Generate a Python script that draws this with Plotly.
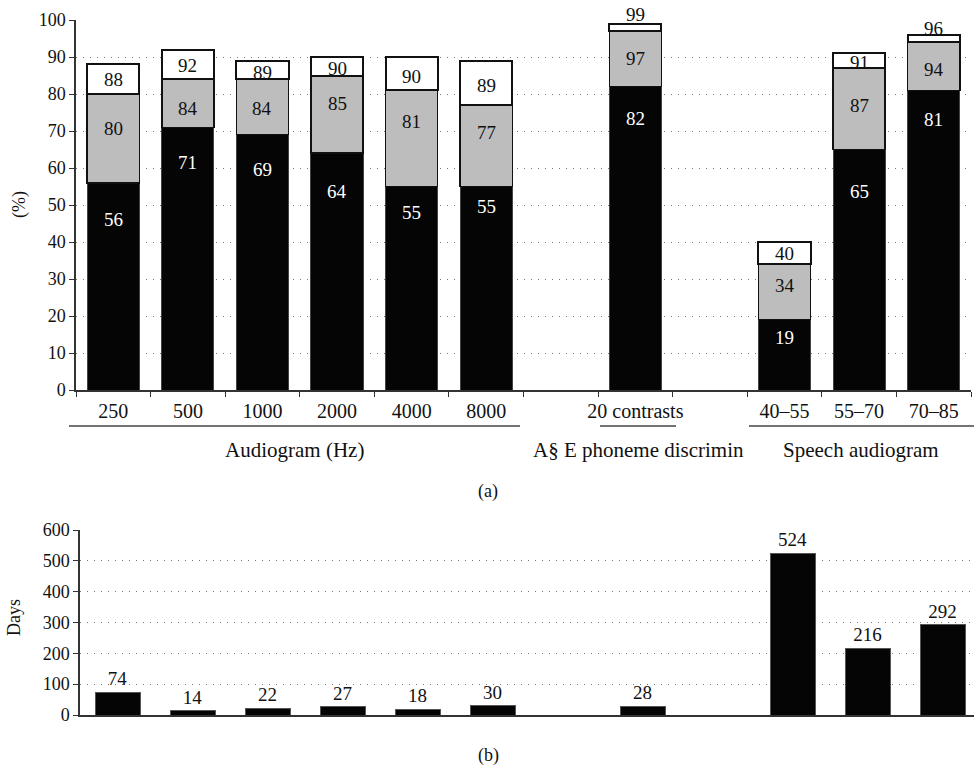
import plotly.graph_objects as go

# ---------------- data ----------------
categories = ["250", "500", "1000", "2000", "4000", "8000", "", "20 contrasts", "", "40–55", "55–70", "70–85"]
level1 = [56, 71, 69, 64, 55, 55, None, 82, None, 19, 65, 81]      # black (cumulative)
level2 = [80, 84, 84, 85, 81, 77, None, 97, None, 34, 87, 94]      # grey (cumulative)
level3 = [88, 92, 89, 90, 90, 89, None, 99, None, 40, 91, 96]      # white (cumulative)
days = [74, 14, 22, 27, 18, 30, None, 28, None, 524, 216, 292]
group_labels = ["Audiogram (Hz)", "A§ E phoneme discrimin", "Speech audiogram"]

# label vertical placement (data units) as in the original
lbl1_y = [46.2, 61.6, 59.7, 53.6, 48.0, 49.5, None, 73.5, None, 14.3, 53.6, 73.2]
lbl2_y = [70.8, 76.2, 76.0, 77.3, 72.7, 69.5, None, 89.7, None, 28.2, 77.0, 86.5]
lbl3_y = [83.8, 87.6, 85.7, 87.0, 84.6, 82.4, None, 101.6, None, 37.0, 88.4, 97.6]

W, H = 974, 771
FONT = "Liberation Serif"
FS_TICK = 18
FS_XTICK = 20
FS_LBL = 19
FS_GRP = 21
PX_PER_UNIT = 3.7  # top panel: 370 px for 100 %

def px(x):
    return x / W

def py(y):
    return 1 - y / H

xs = list(range(len(categories)))
seg1 = [a if a is not None else None for a in level1]
seg2 = [(b - a) if a is not None else None for a, b in zip(level1, level2)]
seg3 = [(c - b) if b is not None else None for b, c in zip(level2, level3)]

fig = go.Figure()
fig.add_bar(x=xs, y=seg1, width=0.7, marker=dict(color="#050505", line=dict(color="#444444", width=1)),
            xaxis="x", yaxis="y", showlegend=False)
fig.add_bar(x=xs, y=seg2, width=0.7, marker=dict(color="#bdbdbd", line=dict(color="#111111", width=1.5)),
            xaxis="x", yaxis="y", showlegend=False)
fig.add_bar(x=xs, y=seg3, width=0.7, marker=dict(color="#ffffff", line=dict(color="#111111", width=2)),
            xaxis="x", yaxis="y", showlegend=False)

fig.add_bar(x=xs, y=days, width=0.6, marker=dict(color="#050505", line=dict(color="#555555", width=1)),
            text=[str(v) if v is not None else "" for v in days], textposition="outside",
            textfont=dict(family=FONT, size=FS_LBL, color="#111111"), cliponaxis=False,
            xaxis="x2", yaxis="y2", showlegend=False)

annotations = []

def bar_label(i, yv, val, color):
    shift = 0
    if yv > 100:
        shift = (yv - 100) * PX_PER_UNIT
        yv = 100
    annotations.append(dict(x=i, y=yv, xref="x", yref="y", text=str(val), showarrow=False,
                            xanchor="center", yanchor="middle", yshift=shift,
                            font=dict(family=FONT, size=FS_LBL, color=color)))

for i in xs:
    if level1[i] is None:
        continue
    bar_label(i, lbl1_y[i], level1[i], "white")
    bar_label(i, lbl2_y[i], level2[i], "#111111")
    bar_label(i, lbl3_y[i], level3[i], "#111111")

def paper_text(x, y, text, size, angle=0):
    annotations.append(dict(x=px(x), y=py(y), xref="paper", yref="paper", text=text, showarrow=False,
                            xanchor="center", yanchor="middle", textangle=angle,
                            font=dict(family=FONT, size=size, color="#111111")))

for g, gx in zip(group_labels, [294.5, 638, 861]):
    paper_text(gx, 450, g, FS_GRP)
paper_text(488, 492, "(a)", FS_TICK)
paper_text(488, 755, "(b)", FS_TICK)
paper_text(20, 205, "(%)", FS_TICK, -90)
paper_text(14, 618, "Days", FS_TICK, -90)

shapes = []
for x0, x1 in [(69, 520), (600, 676), (749, 974)]:
    shapes.append(dict(type="line", xref="paper", yref="paper", x0=px(x0), x1=px(x1), y0=py(426), y1=py(426),
                       line=dict(color="#444444", width=1.5)))

grid = dict(showgrid=True, gridcolor="#777777", gridwidth=1, griddash="1px,6px")
axline = dict(showline=True, linecolor="#333333", linewidth=1.5, automargin=False)

fig.update_layout(
    width=W, height=H,
    margin=dict(l=0, r=0, t=0, b=0, autoexpand=False),
    paper_bgcolor="white", plot_bgcolor="white",
    barmode="stack",
    font=dict(family=FONT, size=FS_TICK, color="#111111"),
    xaxis=dict(domain=[px(76), px(971)], range=[-0.5, 11.5], tickvals=xs, ticktext=categories,
               ticks="outside", ticklen=0, ticklabelstandoff=2, showgrid=False, zeroline=False,
               minor=dict(tickvals=[i - 0.5 for i in range(len(categories) + 1)], ticks="outside",
                          ticklen=5, tickcolor="#333333", showgrid=False),
               tickfont=dict(family=FONT, size=FS_XTICK, color="#111111"), anchor="y", fixedrange=True, **axline),
    yaxis=dict(domain=[py(390), py(20)], range=[0, 100], dtick=10, ticks="outside", ticklen=5,
               tickcolor="#333333", zeroline=False, anchor="x",
               tickfont=dict(family=FONT, size=FS_TICK, color="#111111"), **grid, **axline),
    xaxis2=dict(domain=[px(80), 1.0], range=[-0.5, 11.42], showticklabels=False, ticks="",
                showgrid=False, zeroline=False, anchor="y2", **axline),
    yaxis2=dict(domain=[py(715), py(530)], range=[0, 600], dtick=100, ticks="outside", ticklen=5,
                tickcolor="#333333", zeroline=False, anchor="x2",
                tickfont=dict(family=FONT, size=FS_TICK, color="#111111"), **grid, **axline),
    annotations=annotations,
    shapes=shapes,
)

fig.write_html("out.html", config={"displayModeBar": False},
               post_script="document.body.style.margin='0px';")
